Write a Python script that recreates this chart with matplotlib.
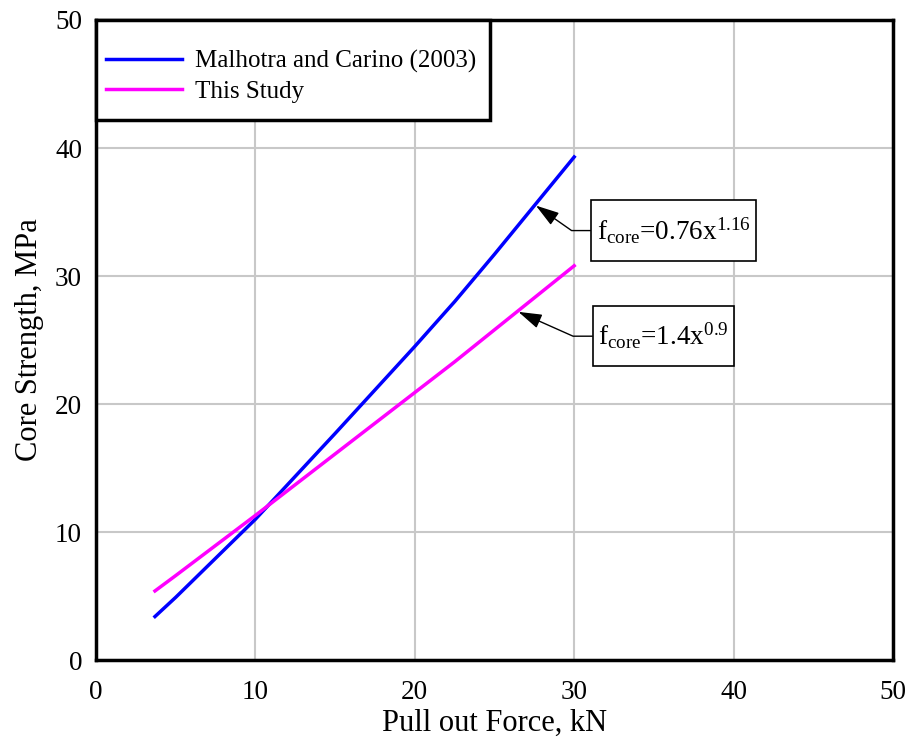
import matplotlib
matplotlib.use("Agg")
import matplotlib.pyplot as plt
from matplotlib.patches import Rectangle
from matplotlib.path import Path

plt.rcParams['font.family'] = ['Liberation Serif', 'DejaVu Serif']
plt.rcParams['mathtext.fontset'] = 'custom'
plt.rcParams['mathtext.rm'] = 'Liberation Serif'
plt.rcParams['mathtext.it'] = 'Liberation Serif'

# values
force = [3.7, 5, 10, 15, 20, 22.5, 25, 27.5, 30]
malhotra = [3.4, 4.9, 11.0, 17.7, 24.5, 28.0, 31.7, 35.5, 39.3]
this_study = [5.4, 6.6, 11.3, 16.1, 20.9, 23.3, 25.8, 28.3, 30.8]


def tall_box(x0, y0, width, height, mutation_size):
    # narrow side padding, taller top/bottom padding
    px, py = 0.2 * mutation_size, 0.55 * mutation_size
    x0, y0 = x0 - px, y0 - py
    x1, y1 = x0 + width + 2 * px, y0 + height + 2 * py
    return Path([(x0, y0), (x1, y0), (x1, y1), (x0, y1), (x0, y0)], closed=True)


fig = plt.figure(figsize=(9.09, 7.40), dpi=100)
ax = fig.add_axes([0.1056, 0.108, 0.8768, 0.865])

ax.plot(force, malhotra, color='#0000ff', linewidth=2.5, label='Malhotra and Carino (2003)')
ax.plot(force, this_study, color='#ff00ff', linewidth=2.5, label='This Study')

ax.set_xlim(0, 50)
ax.set_ylim(0, 50)
ax.set_xticks([0, 10, 20, 30, 40, 50])
ax.set_yticks([0, 10, 20, 30, 40, 50])
ax.grid(True, color='#c8c8c8', linewidth=1.5)
ax.set_axisbelow(True)
ax.tick_params(length=0, labelsize=19.5)
ax.tick_params(axis='x', pad=14)
ax.tick_params(axis='y', pad=10)
for s in ax.spines.values():
    s.set_linewidth(2.5)
    s.set_color('black')

ax.set_xlabel('Pull out Force, kN', fontsize=22, labelpad=3)
ax.set_ylabel('Core Strength, MPa', fontsize=22, labelpad=8)

# legend frame drawn separately so its size can match the original
ax.add_patch(Rectangle((0, 0.844), 0.494, 0.156, transform=ax.transAxes,
                       facecolor='white', edgecolor='black', linewidth=2.5,
                       clip_on=False, zorder=4))
leg = ax.legend(loc='upper left', bbox_to_anchor=(0, 0.969), borderaxespad=0,
                frameon=False, fontsize=18,
                handlelength=3.05, borderpad=0.4, labelspacing=0.3,
                handletextpad=0.5)
leg.set_zorder(5)

box = dict(boxstyle=tall_box, facecolor='white', edgecolor='black', linewidth=1.2)
arrow1 = dict(arrowstyle='-|>,head_length=0.8,head_width=0.25', color='black', linewidth=1.0,
              connectionstyle='angle,angleA=0,angleB=-35,rad=0',
              shrinkA=0, shrinkB=0, mutation_scale=18)
arrow2 = dict(arrow1, connectionstyle='angle,angleA=0,angleB=-24,rad=0')
ax.annotate(r'$\mathrm{f_{core}}$=0.76x$^{1.16}$', xy=(27.6, 35.5), xytext=(31.4, 33.55),
            fontsize=19.5, ha='left', va='center', bbox=box, arrowprops=arrow1)
ax.annotate(r'$\mathrm{f_{core}}$=1.4x$^{0.9}$', xy=(26.5, 27.2), xytext=(31.52, 25.3),
            fontsize=19.5, ha='left', va='center', bbox=box, arrowprops=arrow2)

fig.savefig('out.png', dpi=100)
